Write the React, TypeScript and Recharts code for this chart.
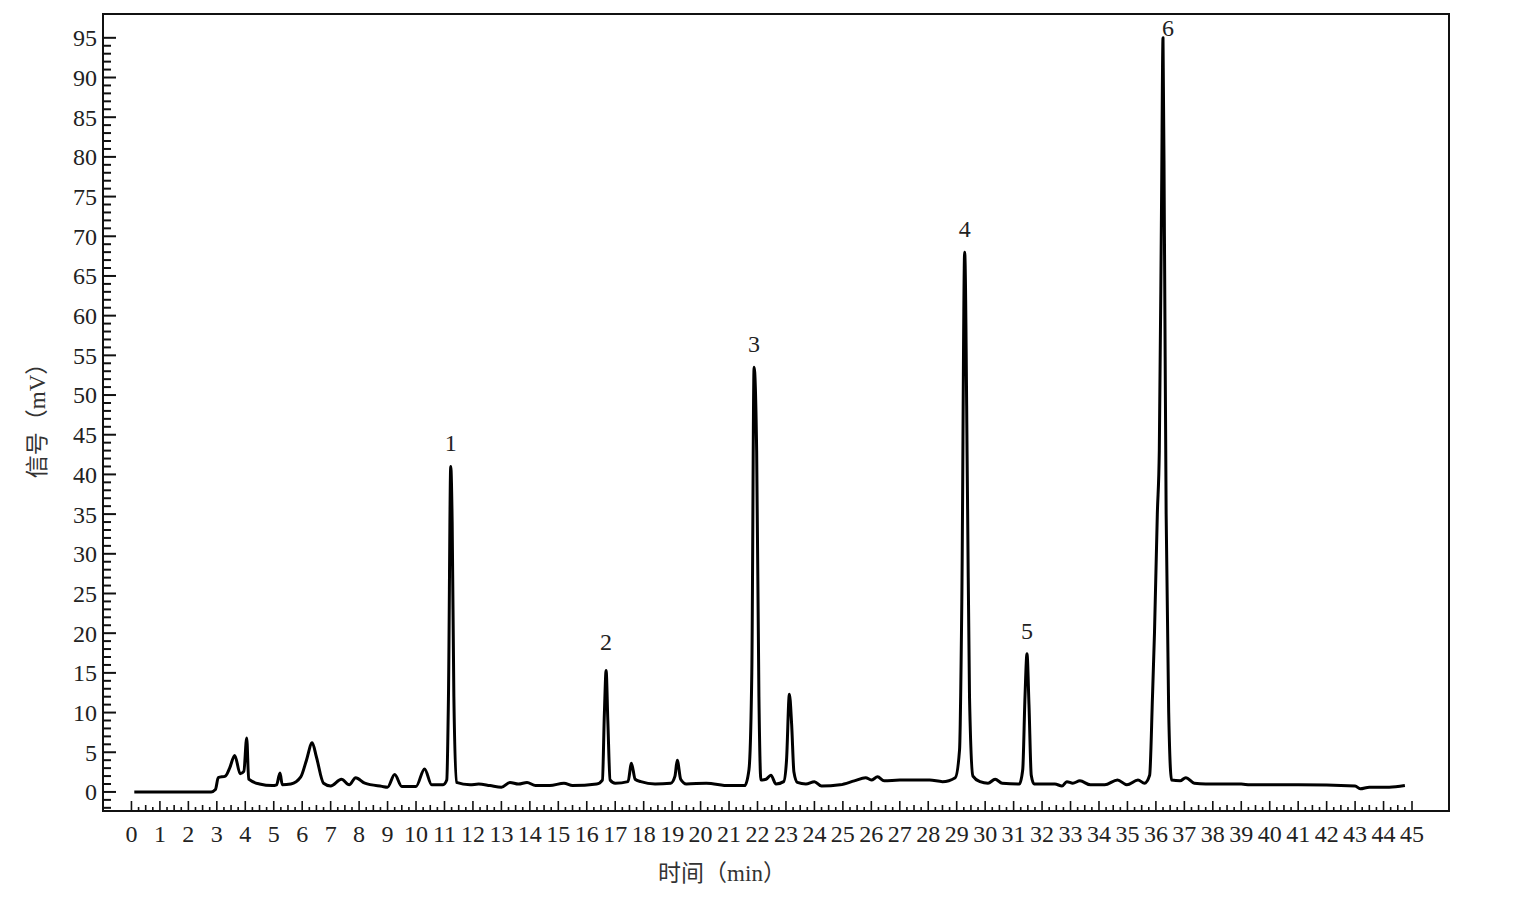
import { LineChart, Line, XAxis, YAxis, ReferenceArea, ReferenceDot } from 'recharts';

// retention time (min) and detector signal (mV)
const times = [
  0.1, 2.8, 2.95, 3.05, 3.3, 3.45, 3.63, 3.82, 3.95, 4.05, 4.12, 4.5, 4.95, 5.1, 5.22, 5.3, 5.6, 5.95,
  6.15, 6.35, 6.5, 6.75, 7.0, 7.38, 7.65, 7.88, 8.2, 8.8, 9.0, 9.25, 9.5, 10.0, 10.3, 10.55, 10.95,
  11.08, 11.14, 11.22, 11.27, 11.33, 11.42, 11.9, 12.2, 12.6, 13.0, 13.3, 13.6, 13.9, 14.2, 14.7, 15.2,
  15.5, 16.35, 16.55, 16.62, 16.68, 16.74, 16.82, 17.0, 17.45, 17.57, 17.7, 17.9, 18.4, 18.95, 19.1,
  19.18, 19.3, 19.5, 20.2, 21.0, 21.55, 21.7, 21.8, 21.88, 21.97, 22.05, 22.12, 22.3, 22.47, 22.65,
  22.92, 23.02, 23.12, 23.2, 23.28, 23.4, 23.7, 24.0, 24.25, 24.9, 25.4, 25.8, 26.0, 26.22, 26.45,
  27.0, 28.05, 28.5, 28.95, 29.1, 29.18, 29.28, 29.38, 29.45, 29.57, 29.82, 30.1, 30.35, 30.6, 31.2,
  31.32, 31.4, 31.47, 31.54, 31.62, 31.72, 32.45, 32.7, 32.87, 33.08, 33.33, 33.7, 34.2, 34.65, 34.98,
  35.37, 35.6, 35.78, 35.88, 35.95, 36.05, 36.12, 36.2, 36.25, 36.3, 36.36, 36.45, 36.55, 36.85, 37.05,
  37.35, 37.75, 39.0, 39.3, 41.0, 43.0, 43.18, 43.5, 44.2, 44.75,
];
const signal = [
  0, 0, 0.3, 1.8, 2.0, 3.0, 4.6, 2.3, 2.6, 6.8, 1.6, 1.0, 0.8, 0.9, 2.4, 0.9, 1.0, 1.9,
  4.0, 6.2, 4.4, 1.1, 0.75, 1.6, 0.9, 1.8, 1.1, 0.7, 0.6, 2.2, 0.7, 0.7, 2.9, 0.9, 0.9,
  1.5, 12, 41, 34, 12, 1.2, 0.9, 1.0, 0.8, 0.6, 1.2, 1.0, 1.2, 0.8, 0.8, 1.1,
  0.8, 1.0, 1.5, 10, 15.3, 9, 1.5, 1.1, 1.3, 3.6, 1.6, 1.3, 1.0, 1.1, 2.0,
  4.0, 1.6, 1.0, 1.1, 0.8, 0.8, 2.8, 15, 53.5, 43, 12, 1.5, 1.6, 2.1, 1.0,
  1.3, 4, 12.3, 8.5, 2.5, 1.2, 1.0, 1.3, 0.75, 0.9, 1.4, 1.8, 1.5, 1.9, 1.4,
  1.5, 1.5, 1.3, 1.8, 5.3, 24, 68, 37, 12, 2.0, 1.3, 1.1, 1.6, 1.1, 1.0,
  2.8, 12, 17.4, 11, 2.1, 1.0, 1.0, 0.75, 1.3, 1.1, 1.4, 0.9, 0.9, 1.5, 0.9,
  1.5, 1.1, 2.1, 12, 20, 35, 43, 75, 95, 70, 35, 10, 1.5, 1.4, 1.8,
  1.1, 1.0, 1.0, 0.9, 0.9, 0.75, 0.4, 0.6, 0.6, 0.8,
];

const peakNames = ['1', '2', '3', '4', '5', '6'];
const peakTimes = [11.22, 16.68, 21.88, 29.28, 31.47, 36.25];
const peakHeights = [41, 15.3, 53.5, 68, 17.4, 95];

const xTicks: number[] = [];
for (let i = 0; i <= 180; i++) xTicks.push(i / 4);
const yTicks: number[] = [];
for (let i = -2; i <= 95; i++) yTicks.push(i);

const data = times.map((t, i) => ({ t, v: signal[i] }));

const FONT = '"Liberation Serif", "DejaVu Serif", "Noto Sans CJK SC", serif';

function XTick({ x, y, payload }: any) {
  const v = payload.value as number;
  const isMajor = Math.abs(v - Math.round(v)) < 1e-6;
  const isHalf = Math.abs(v * 2 - Math.round(v * 2)) < 1e-6;
  const len = isMajor ? 10 : isHalf ? 6 : 4;
  return (
    <g>
      <line x1={x} x2={x} y1={y} y2={y - len} stroke="#111" strokeWidth={1.6} />
      {isMajor && (
        <text x={x} y={y + 31} textAnchor="middle" fontSize={24} fontFamily={FONT} fill="#222">{Math.round(v)}</text>
      )}
    </g>
  );
}

function YTick({ x, y, payload }: any) {
  const v = payload.value as number;
  const isMajor = v % 5 === 0;
  const len = isMajor ? 13 : 8;
  return (
    <g>
      <line x1={x} x2={x + len} y1={y} y2={y} stroke="#111" strokeWidth={2} />
      {isMajor && v >= 0 && (
        <text x={x - 6} y={y} dy="0.35em" textAnchor="end" fontSize={24} fontFamily={FONT} fill="#222">{v}</text>
      )}
    </g>
  );
}

export default function App() {
  return (
    <div style={{ background: '#fff', width: 1520, height: 880 }}>
      <LineChart width={1520} height={880} data={data} margin={{ top: 6, right: 79, bottom: 37, left: 35 }}>
        <XAxis
          dataKey="t" type="number" domain={[-1, 46.3]} ticks={xTicks} interval={0}
          tickSize={0} tickMargin={0} tickLine={false} tick={<XTick />} height={40}
          axisLine={{ stroke: '#111', strokeWidth: 2 }}
          label={{
            content: () => (
              <text x={714} y={873} textAnchor="middle" fontSize={23} fontFamily={FONT} fill="#333">时间（min）</text>
            ),
          }}
        />
        <YAxis
          type="number" domain={[-2.4, 98]} ticks={yTicks} interval={0} width={60}
          tickSize={0} tickMargin={0} tickLine={false} tick={<YTick />}
          axisLine={{ stroke: '#111', strokeWidth: 2 }}
          label={{
            content: () => (
              <text x={32} y={407} textAnchor="middle" dominantBaseline="middle" fontSize={23} fontFamily={FONT} fill="#333" transform="rotate(-90 32 407)">信号（mV）</text>
            ),
          }}
        />
        <ReferenceArea x1={-1} x2={46.3} y1={-2.4} y2={98} fill="none" stroke="#111" strokeWidth={2} strokeOpacity={1} />
        <Line
          dataKey="v" type="monotone" stroke="#000" strokeWidth={3} dot={false}
          isAnimationActive={false} strokeLinejoin="round"
        />
        {peakNames.map((name, i) => (
          <ReferenceDot
            key={name} x={peakTimes[i]} y={peakHeights[i]} r={0} fill="none" stroke="none"
            label={{
              value: name, position: 'top', offset: name === '6' ? 2 : name === '2' ? 20 : 15,
              fontSize: 24, fontFamily: FONT, fill: '#222', dx: name === '6' ? 5 : 0,
            }}
          />
        ))}
      </LineChart>
    </div>
  );
}
